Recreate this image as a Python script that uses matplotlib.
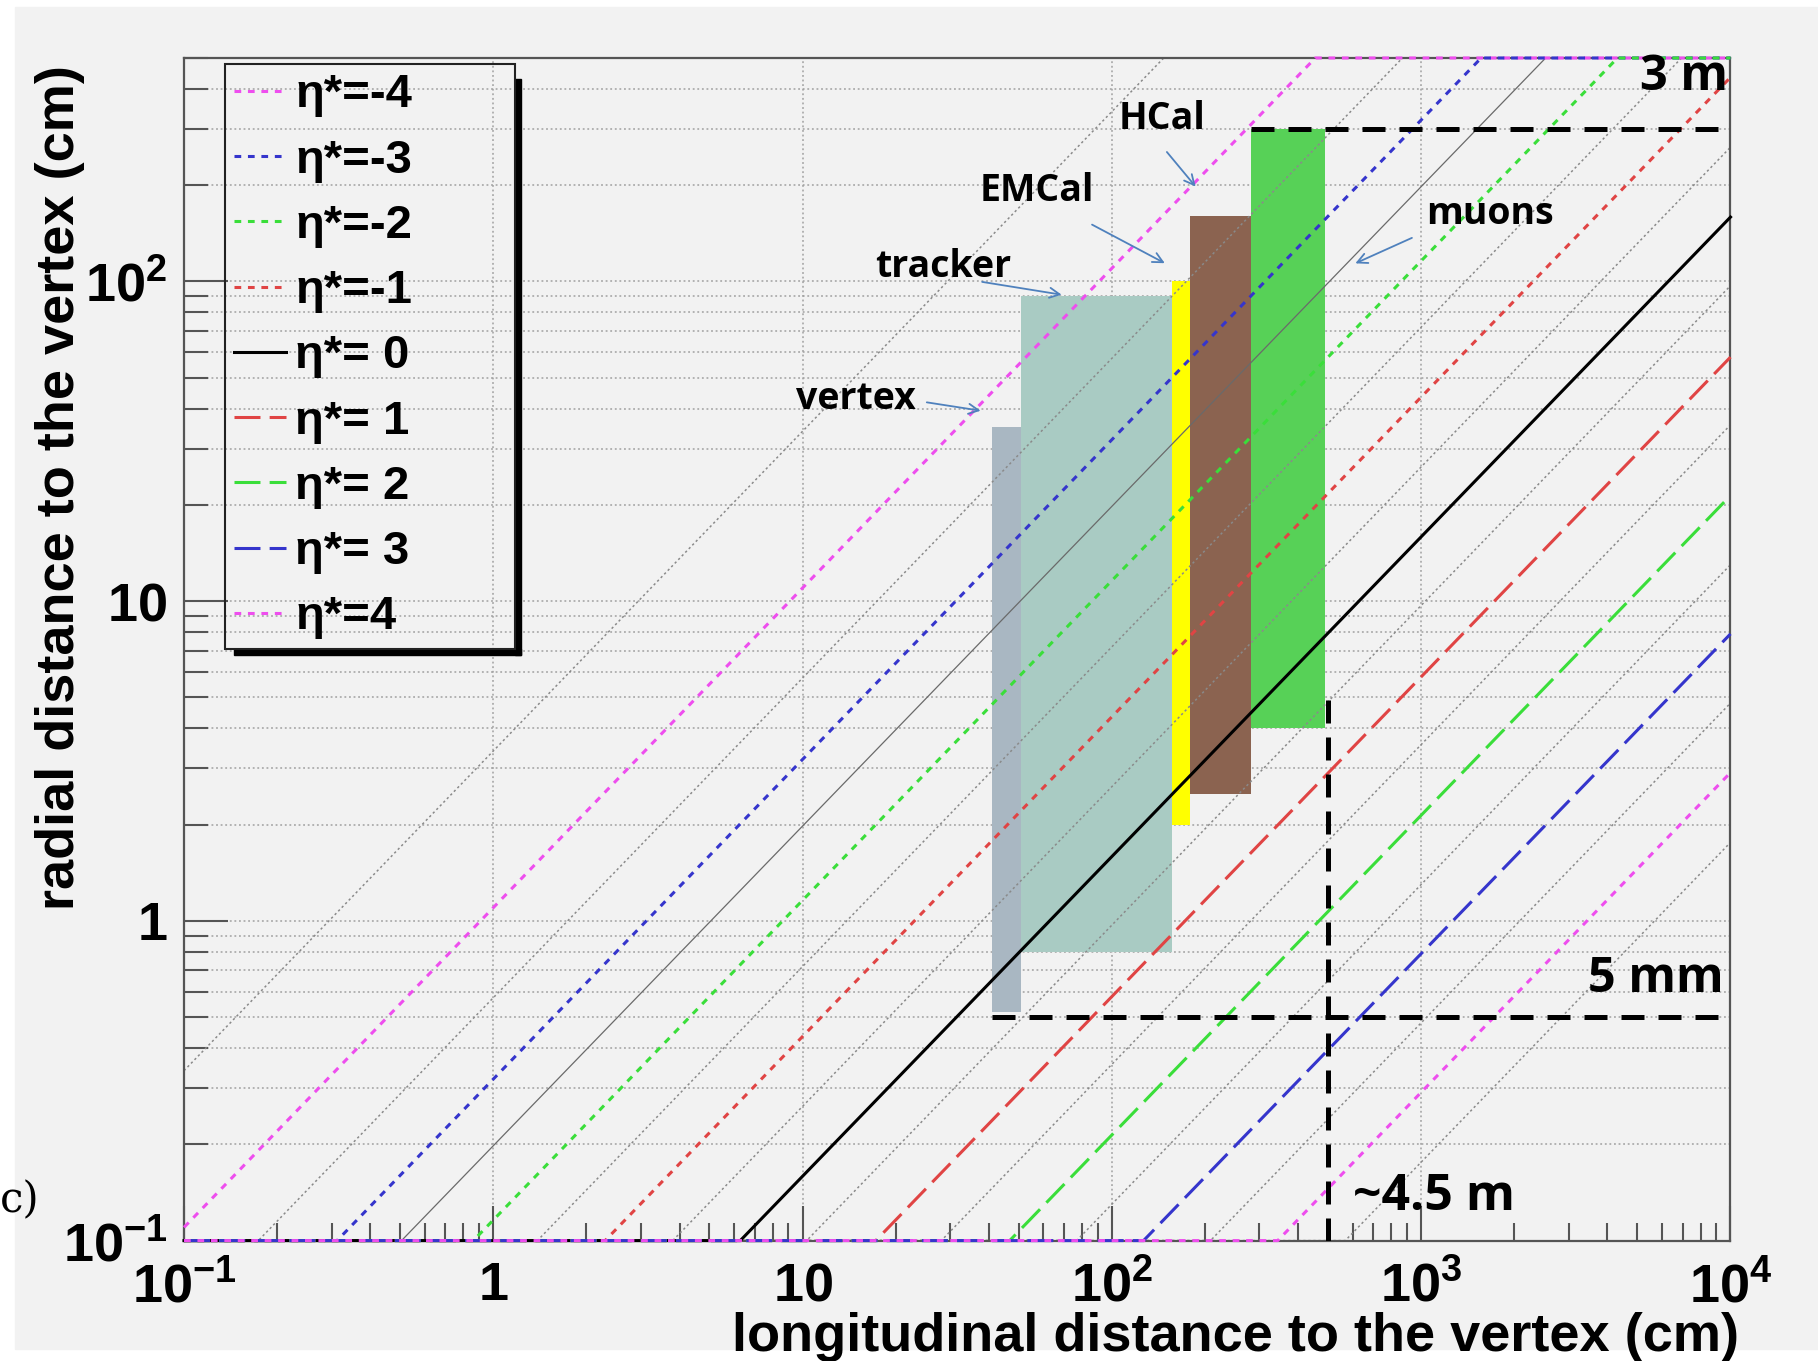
# -*- coding: utf-8 -*-

#   Importing Modules/Libraries/Packages
import numpy as np
import matplotlib
matplotlib.use('Agg')
import matplotlib.pyplot as plt
from matplotlib.patches import Rectangle
from matplotlib.ticker import LogLocator, FixedLocator, FixedFormatter, NullFormatter


#   Data
eta_labels = ['η*=-4', 'η*=-3', 'η*=-2', 'η*=-1', 'η*= 0', 'η*= 1', 'η*= 2', 'η*= 3', 'η*=4']
eta_slopes = [1.1, 0.32, 0.116, 0.0435, 0.0159, 0.0058, 0.00214, 0.00079, 0.000291]   # r/z of each line
half_slopes = [3.4, 0.575, 0.198, 0.072, 0.0263, 0.0097, 0.00356, 0.0013, 0.00048, 0.000176]

det_names = ['vertex', 'tracker', 'EMCal', 'HCal', 'muons']
det_z0 = [41, 51, 156, 179, 282]
det_z1 = [51, 156, 179, 282, 490]
det_r0 = [0.52, 0.8, 2.0, 2.5, 4.0]
det_r1 = [35, 90, 100, 160, 300]

limit_r_outer = 300     # 3 m
limit_r_inner = 0.5     # 5 mm
limit_z = 500           # ~4.5 m
limit_z_top = 5.2

x_ticks = [0.1, 1, 10, 100, 1000, 10000]
x_tick_labels = ['$10^{-1}$', '$1$', '$10$', '$10^{2}$', '$10^{3}$', '$10^{4}$']
y_ticks = [0.1, 1, 10, 100]
y_tick_labels = ['$10^{-1}$', '$1$', '$10$', '$10^{2}$']

zmin, zmax = 0.1, 1e4
rmin, rmax = 0.1, 500


#   Styles
eta_colors = ['#ee4eee', '#3535cc', '#3ade3a', '#e04444', 'black',
              '#e04444', '#3ade3a', '#3535cc', '#ee4eee']
eta_styles = ['dot', 'dot', 'dot', 'dot', 'solid', 'dash', 'dash', 'dash', 'dot']
det_colors = ['#a9b7c2', '#a9cbc3', '#ffff00', '#8b6350', '#57d157']
arrow_col = '#4f81bd'

main_font = ['Liberation Sans', 'DejaVu Sans']
label_font = ['Open Sans', 'DejaVu Sans']

plt.rcParams['font.family'] = main_font
plt.rcParams['font.weight'] = 'bold'
plt.rcParams['mathtext.fontset'] = 'custom'
plt.rcParams['mathtext.rm'] = 'Liberation Sans:bold'
plt.rcParams['mathtext.it'] = 'Liberation Sans:bold'
plt.rcParams['mathtext.bf'] = 'Liberation Sans:bold'
plt.rcParams['mathtext.default'] = 'rm'


def clipped_line(c):
    # straight line r = c*z, held on the frame edges like ROOT does
    z = np.clip(np.array([zmin, rmin / c, rmax / c, zmax]), zmin, zmax)
    r = np.clip(c * z, rmin, rmax)
    return z, r


#   Figure
fig = plt.figure(figsize=(18.18, 13.61), dpi=100)
fig.patch.set_facecolor('white')
fig.add_artist(Rectangle((15 / 1818, 12 / 1361), 1, 1 - 19 / 1361, transform=fig.transFigure,
                         color='#f2f2f2', zorder=-10))
ax = fig.add_axes([0.10121, 0.08847, 0.85066, 0.86892])
ax.set_facecolor('#f2f2f2')
ax.set_xscale('log')
ax.set_yscale('log')
ax.set_xlim(zmin, zmax)
ax.set_ylim(rmin, rmax)
ax.set_axisbelow(True)


#   Detector boxes
ax.bar(det_z0, np.array(det_r1) - np.array(det_r0), bottom=det_r0,
       width=np.array(det_z1) - np.array(det_z0), align='edge',
       color=det_colors, linewidth=0, zorder=1)


#   Half step lines (thin grey)
for i, c in enumerate(half_slopes):
    z, r = clipped_line(c)
    if i == 2:
        ax.plot(z, r, color='#6a6a6a', lw=0.9, zorder=2, clip_on=False)
    else:
        ax.plot(z, r, color='#8a8a8a', lw=1.1, ls=(0, (1.5, 1.8)), zorder=2, clip_on=False)


#   eta* lines
line_styles = {'dot': (0, (2.2, 2.2)), 'solid': '-', 'dash': (0, (8.5, 3))}
handles = []
for i, c in enumerate(eta_slopes):
    z, r = clipped_line(c)
    h, = ax.plot(z, r, color=eta_colors[i], lw=2.2, ls=line_styles[eta_styles[i]], zorder=3,
                 label=eta_labels[i], clip_on=False)
    handles.append(h)


#   Acceptance limits (black dashed)
dash = dict(color='black', lw=3.6, ls=(0, (4.6, 2.8)), zorder=4)
ax.plot([det_z0[4], zmax], [limit_r_outer, limit_r_outer], **dash)
ax.plot([det_z0[0], zmax], [limit_r_inner, limit_r_inner], **dash)
ax.plot([limit_z, limit_z], [rmin, limit_z_top], **dash)

ax.text(9800, 435, '3 m', ha='right', va='center', fontsize=35, weight='bold', family=label_font)
ax.text(9470, 0.655, '5 mm', ha='right', va='center', fontsize=35, weight='bold', family=label_font)
ax.text(600, 0.137, '~4.5 m', ha='left', va='center', fontsize=36, weight='bold', family=label_font)


#   Detector labels with arrows
label_pos = [(9.55, 42.8), (17.2, 110.7), (37.3, 192), (105, 323), (1035, 163)]
arrow_tail = [(24.7, 42), (37.3, 100), (84.7, 152), (148.6, 258), (951, 138)]
arrow_head = [(38.4, 39.3), (70.2, 90.6), (151, 113), (189, 195), (601, 113)]
for name, p, t, hd in zip(det_names, label_pos, arrow_tail, arrow_head):
    ax.text(p[0], p[1], name, ha='left', va='center', fontsize=27, weight='bold',
            family=label_font, zorder=6)
    ax.annotate('', xy=hd, xytext=t,
                arrowprops=dict(arrowstyle='->', color=arrow_col, lw=1.3, mutation_scale=18),
                zorder=6)


#   Axes, ticks and grid
ax.xaxis.set_major_locator(FixedLocator(x_ticks))
ax.xaxis.set_major_formatter(FixedFormatter(x_tick_labels))
ax.yaxis.set_major_locator(FixedLocator(y_ticks))
ax.yaxis.set_major_formatter(FixedFormatter(y_tick_labels))
ax.xaxis.set_minor_locator(LogLocator(base=10, subs=np.arange(2, 10), numticks=30))
ax.yaxis.set_minor_locator(LogLocator(base=10, subs=np.arange(2, 10), numticks=30))
ax.xaxis.set_minor_formatter(NullFormatter())
ax.yaxis.set_minor_formatter(NullFormatter())

ax.tick_params(axis='both', which='both', direction='in', colors='#555555', width=1.5,
               labelcolor='black', labelsize=39)
ax.tick_params(axis='x', which='major', length=25, pad=15)
ax.tick_params(axis='x', which='minor', length=13)
ax.tick_params(axis='y', which='major', length=32, pad=12)
ax.tick_params(axis='y', which='minor', length=17)

ax.grid(True, which='major', axis='x', color='#a0a0a0', lw=1.1, ls=(0, (1.2, 1.8)))
ax.grid(True, which='both', axis='y', color='#a0a0a0', lw=1.1, ls=(0, (1.2, 1.8)))
for s in ax.spines.values():
    s.set_color('#555555')
    s.set_linewidth(1.6)

fig.text(1739 / 1818, 1 - 1337 / 1361, 'longitudinal distance to the vertex (cm)',
         ha='right', va='center', fontsize=39, weight='bold')
fig.text(60 / 1818, 0.642, 'radial distance to the vertex (cm)', rotation=90,
         ha='center', va='center', fontsize=39, weight='bold')
fig.text(0.0, 1 - 1200 / 1361, 'c)', ha='left', va='center', fontsize=30,
         family='DejaVu Serif', weight='normal')


#   Legend (transparent, with ROOT style shadow)
leg = ax.legend(handles=handles, loc='upper left', bbox_to_anchor=(0.0262, 0.496, 0.188, 0.499),
                mode='expand', borderaxespad=0, fancybox=False, framealpha=1,
                facecolor='none', edgecolor='#222222', handlelength=1.1, handletextpad=0.2,
                borderpad=0.2, labelspacing=0.45,
                prop=dict(family=main_font, weight='bold', size=34))
leg.get_frame().set_linewidth(1.5)
leg.set_zorder(7)

fig.canvas.draw()
bb = leg.get_window_extent().transformed(ax.transAxes.inverted())
sx = 6 / 1546.5
sy = 6 / 1182.6
ax.add_patch(Rectangle((bb.x1, bb.y0 - sy), sx, bb.height - 1.5 * sy, transform=ax.transAxes,
                       color='black', clip_on=False, zorder=7))
ax.add_patch(Rectangle((bb.x0 + 1.5 * sx, bb.y0 - sy), bb.width - 0.5 * sx, sy,
                       transform=ax.transAxes, color='black', clip_on=False, zorder=7))

fig.savefig('out.png', dpi=100)
